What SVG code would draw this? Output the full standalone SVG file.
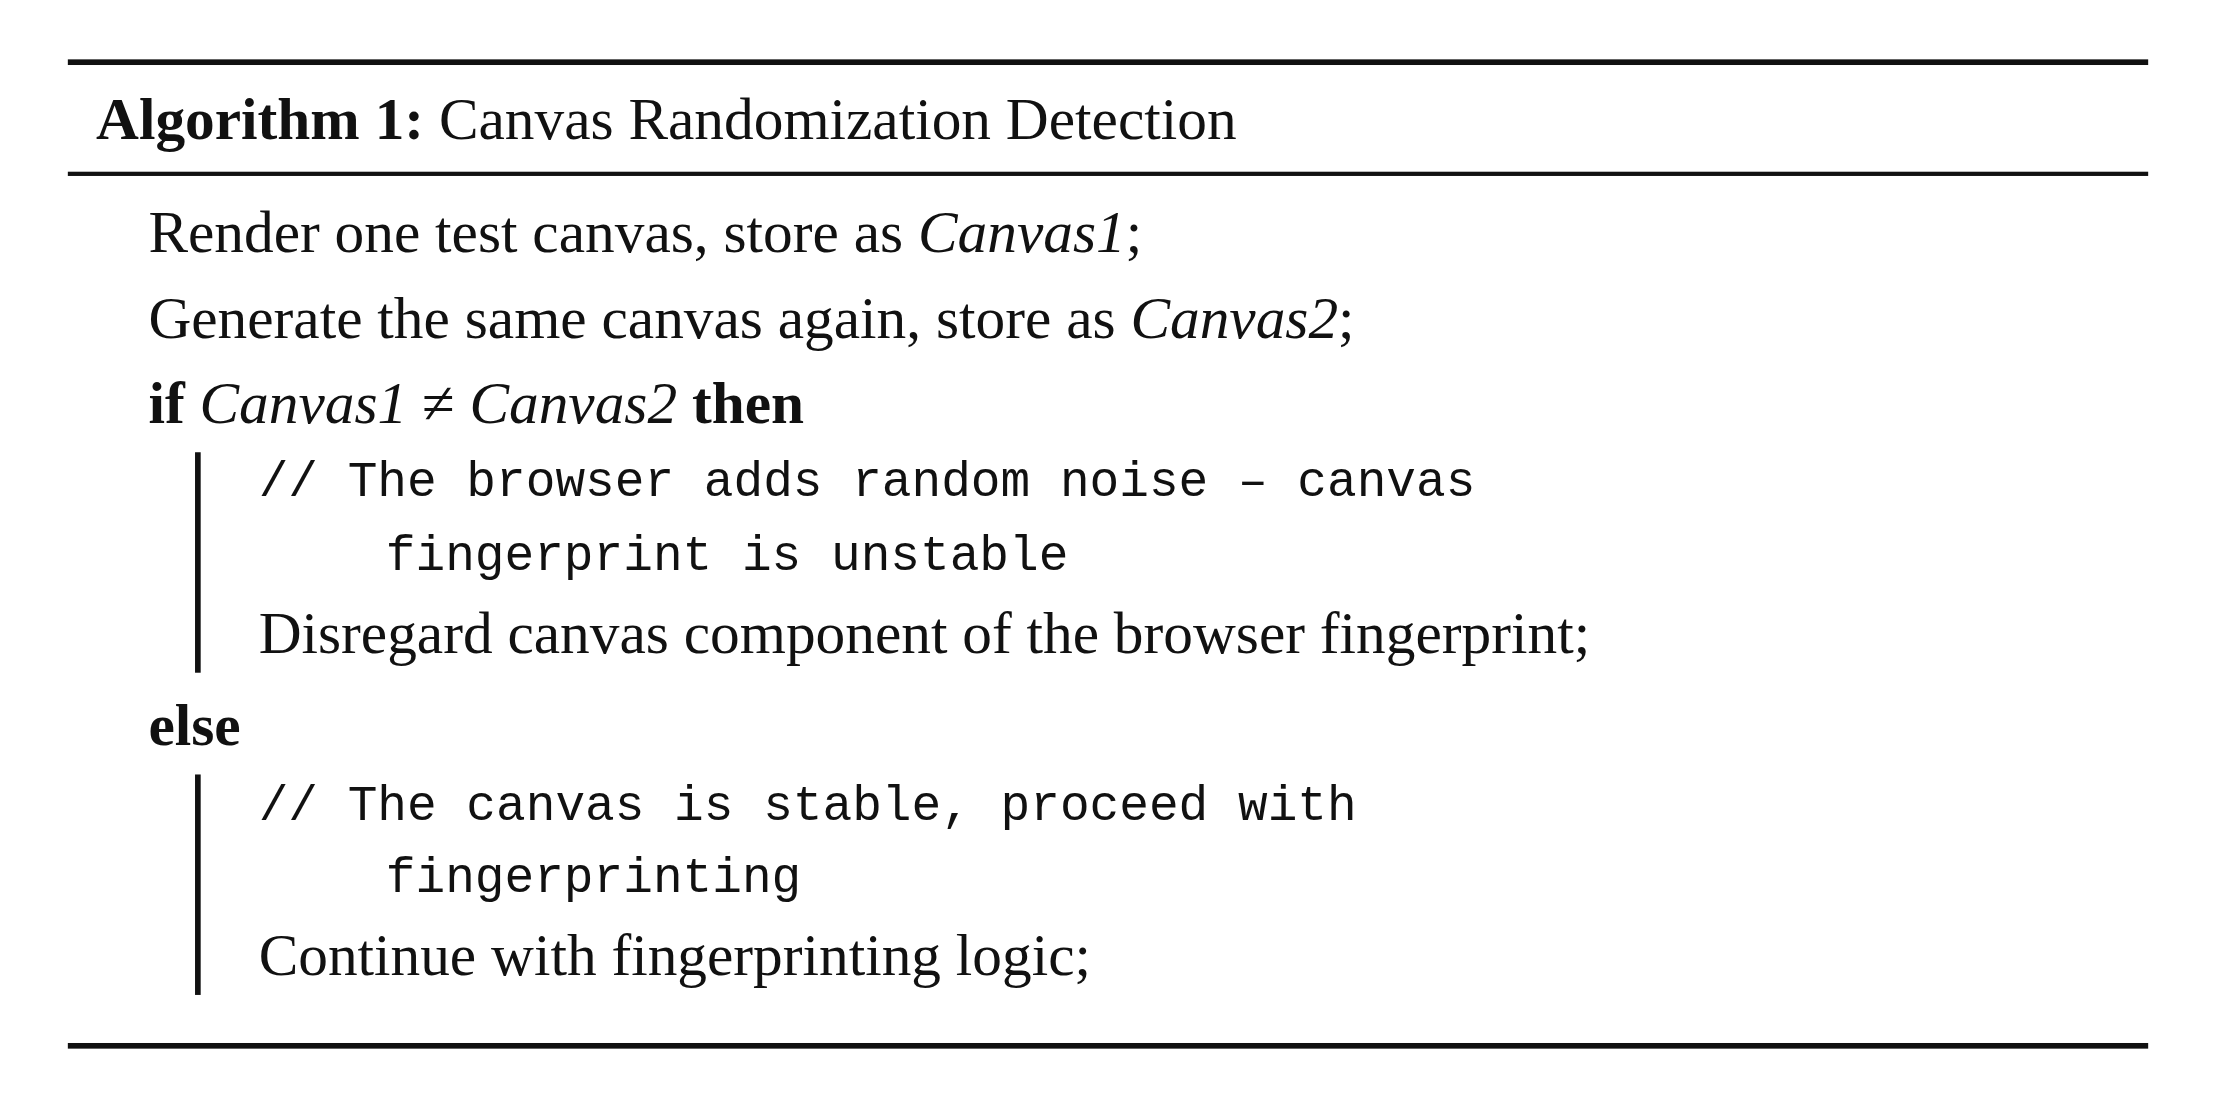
<svg xmlns="http://www.w3.org/2000/svg" width="2216" height="1108" viewBox="0 0 2216 1108">
<style>
.t{font-family:"Liberation Serif",serif;font-size:42px;fill:#111}
.m{font-family:"Liberation Mono",monospace;font-size:35px;fill:#111}
.b{font-weight:bold}
.i{font-style:italic}
</style>
<rect width="2216" height="1108" fill="#fff"/>
<g transform="scale(1.41327)">
<g id="rules" fill="#111">
<rect x="48" y="42" width="1472" height="4"/>
<rect x="48" y="121.5" width="1472" height="3"/>
<rect x="48" y="738" width="1472" height="4"/>
<rect x="138" y="320" width="4" height="156"/>
<rect x="138" y="548" width="4" height="156"/>
</g>
<g id="title"><text class="t" x="68" y="98"><tspan class="b">Algorithm 1:</tspan> Canvas Randomization Detection</text></g>
<g id="body">
<text class="t" x="105" y="178">Render one test canvas, store as <tspan class="i">Canvas1</tspan>;</text>
<text class="t" x="105" y="239">Generate the same canvas again, store as <tspan class="i">Canvas2</tspan>;</text>
<text class="t" x="105" y="299"><tspan class="b">if</tspan> <tspan class="i">Canvas1</tspan> ≠ <tspan class="i">Canvas2</tspan> <tspan class="b">then</tspan></text>
<text class="m" x="183" y="351">// The browser adds random noise – canvas</text>
<text class="m" x="273" y="403">fingerprint is unstable</text>
<text class="t" x="183" y="462">Disregard canvas component of the browser fingerprint;</text>
<text class="t b" x="105" y="527">else</text>
<text class="m" x="183" y="580">// The canvas is stable, proceed with</text>
<text class="m" x="273" y="631">fingerprinting</text>
<text class="t" x="183" y="690">Continue with fingerprinting logic;</text>
</g>
</g>
</svg>
